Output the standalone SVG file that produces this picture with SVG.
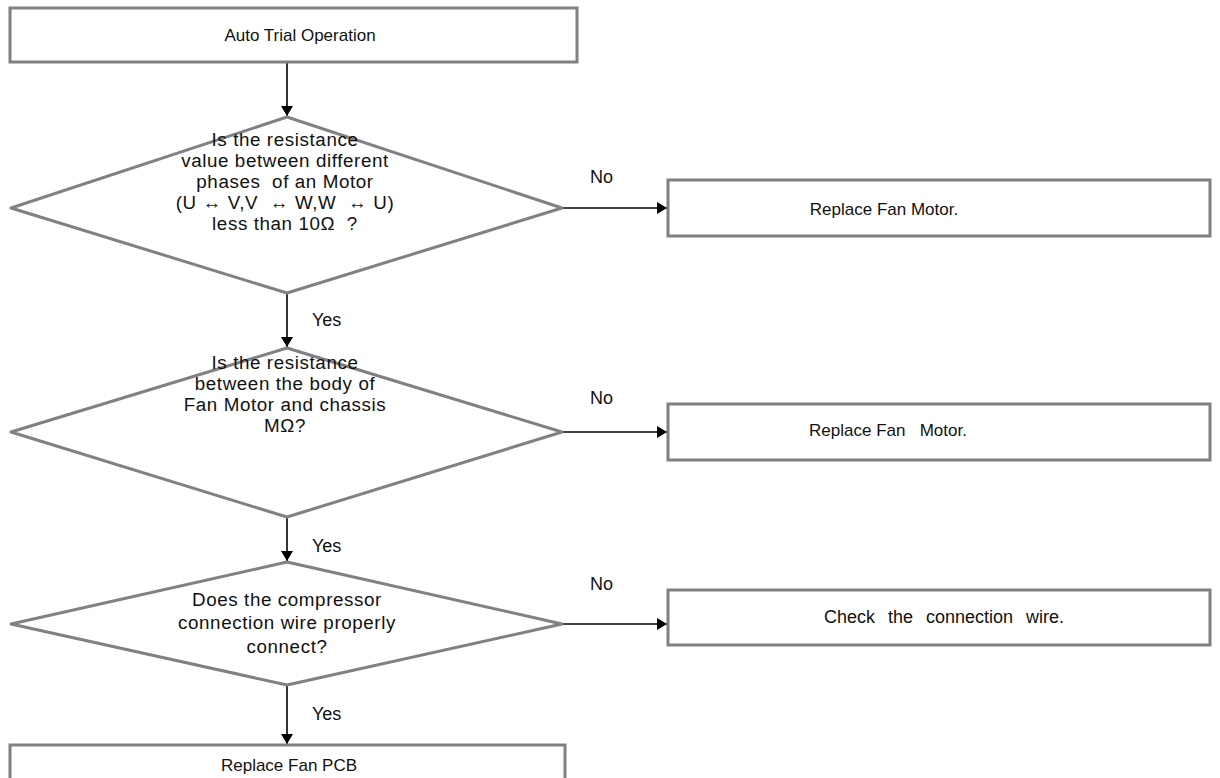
<svg xmlns="http://www.w3.org/2000/svg" width="1220" height="778" viewBox="0 0 1220 778">
  <defs>
    <marker id="arrow" viewBox="0 0 10 12" refX="10" refY="6" markerWidth="11" markerHeight="12" markerUnits="userSpaceOnUse" orient="auto">
      <path d="M0,0 L10,6 L0,12 Z" fill="#000"/>
    </marker>
    <style>
      .box { fill: #fff; stroke: #808085; stroke-width: 3; }
      .dec { fill: #fff; stroke: #808085; stroke-width: 3; stroke-linejoin: round; }
      .t { font-family: "Liberation Sans", Arial, sans-serif; font-size: 17px; fill: #111; text-anchor: middle; }
      .q { font-family: "Liberation Sans", Arial, sans-serif; font-size: 18.8px; letter-spacing: 0.6px; fill: #111; text-anchor: middle; }
      .lbl { font-family: "Liberation Sans", Arial, sans-serif; font-size: 18px; fill: #111; }
      .link { stroke: #000; stroke-width: 1.6; fill: none; marker-end: url(#arrow); }
    </style>
  </defs>
  <rect width="1220" height="778" fill="#fff"/>

  <!-- connectors and their Yes / No labels -->
  <g id="connectors">
    <line class="link" x1="287" y1="62" x2="287" y2="116"/>
    <line class="link" x1="287" y1="293" x2="287" y2="347"/>
    <line class="link" x1="287" y1="517" x2="287" y2="561"/>
    <line class="link" x1="287" y1="685" x2="287" y2="744"/>
    <line class="link" x1="562" y1="208" x2="667" y2="208"/>
    <line class="link" x1="562" y1="432" x2="667" y2="432"/>
    <line class="link" x1="562" y1="624" x2="667" y2="624"/>
    <text class="lbl" x="590" y="183">No</text>
    <text class="lbl" x="590" y="404">No</text>
    <text class="lbl" x="590" y="590">No</text>
    <text class="lbl" x="312" y="326">Yes</text>
    <text class="lbl" x="312" y="552">Yes</text>
    <text class="lbl" x="312" y="720">Yes</text>
  </g>

  <g id="start">
    <rect class="box" x="10" y="8" width="567" height="54"/>
    <text class="t" x="300" y="41">Auto Trial Operation</text>
  </g>

  <g id="check-phase-resistance">
    <polygon class="dec" points="287,117 562,208 287,293 11,208"/>
    <text class="q" x="285" y="146">Is the resistance</text>
    <text class="q" x="285" y="167">value between different</text>
    <text class="q" x="285" y="188" xml:space="preserve">phases  of an Motor</text>
    <text class="q" x="285" y="209" xml:space="preserve">(U ↔ V,V  ↔ W,W  ↔ U)</text>
    <text class="q" x="285" y="230" xml:space="preserve">less than 10Ω  ?</text>
  </g>

  <g id="replace-motor-1">
    <rect class="box" x="668" y="180" width="542" height="56"/>
    <text class="t" x="884" y="215">Replace Fan Motor.</text>
  </g>

  <g id="check-insulation">
    <polygon class="dec" points="287,348 562,432 287,517 11,432"/>
    <text class="q" x="285" y="369">Is the resistance</text>
    <text class="q" x="285" y="390">between the body of</text>
    <text class="q" x="285" y="411">Fan Motor and chassis</text>
    <text class="q" x="285" y="432">MΩ?</text>
  </g>

  <g id="replace-motor-2">
    <rect class="box" x="668" y="404" width="542" height="56"/>
    <text class="t" x="888" y="436" xml:space="preserve">Replace Fan   Motor.</text>
  </g>

  <g id="check-wire">
    <polygon class="dec" points="287,562 562,624 287,685 11,624"/>
    <text class="q" x="287" y="606">Does the compressor</text>
    <text class="q" x="287" y="629">connection wire properly</text>
    <text class="q" x="287" y="653">connect?</text>
  </g>

  <g id="check-connection">
    <rect class="box" x="668" y="590" width="542" height="55"/>
    <text class="t" x="944" y="623" style="font-size:18px; word-spacing:8px">Check the connection wire.</text>
  </g>

  <g id="replace-pcb">
    <rect class="box" x="10" y="745" width="555" height="45"/>
    <text class="t" x="289" y="771">Replace Fan PCB</text>
  </g>
</svg>
